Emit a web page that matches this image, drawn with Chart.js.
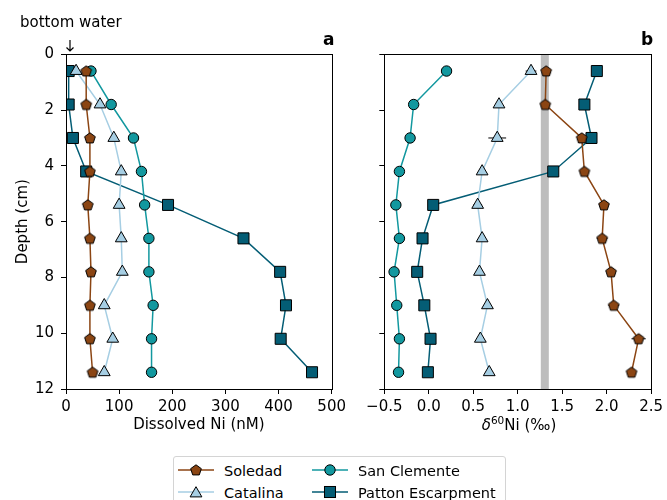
<!DOCTYPE html>
<html>
<head>
<meta charset="utf-8">
<script src="https://cdn.jsdelivr.net/npm/chart.js@4.4.1/dist/chart.umd.min.js"></script>
<style>
  body { margin: 0; width: 667px; height: 500px; position: relative; overflow: hidden; background: #fff;
         font-family: "DejaVu Sans", sans-serif; color: #000; }
  canvas { position: absolute; top: 0; }
  #chartA { left: 0; }
  #chartB { left: 350px; }
  .txt { position: absolute; font-size: 15px; white-space: nowrap; line-height: 1; }
  .letter { position: absolute; font-size: 17px; font-weight: bold; line-height: 1; }
  #xtitleB { left: 519px; top: 418px; transform: translateX(-50%); }
  #xtitleB i { font-style: italic; }
  #xtitleB sup { font-size: 10.5px; vertical-align: 0; position: relative; top: -6px; }
  #legend { position: absolute; left: 173px; top: 456px; width: 333px; height: 60px;
            border: 1px solid #d4d4d4; border-radius: 3px; box-sizing: border-box; }
  .leg { position: absolute; font-size: 14.5px; line-height: 1; white-space: nowrap; }
  .leg svg { position: absolute; }
</style>
</head>
<body>
<canvas id="chartA" width="350" height="445"></canvas>
<canvas id="chartB" width="317" height="445"></canvas>

<div class="txt" style="left:20px; top:15px;">bottom water</div>
<svg style="position:absolute; left:60px; top:36px;" width="20" height="20">
  <path d="M10 4 L10 15 M6.5 11.5 L10 15 L13.5 11.5" stroke="#000" stroke-width="1.2" fill="none"/>
</svg>
<div class="letter" style="left:323px; top:31px;">a</div>
<div class="letter" style="left:641px; top:31px;">b</div>
<div class="txt" id="xtitleB"><i>δ</i><sup>60</sup>Ni (‰)</div>
<div id="legend"></div>

<script>
// sample depths (cm)
const depth = [0.6, 1.8, 3.0, 4.2, 5.4, 6.6, 7.8, 9.0, 10.2, 11.4];
const seriesNames = ['Soledad', 'Catalina', 'San Clemente', 'Patton Escarpment'];

// dissolved Ni (nM)
const niSoledad     = [38, 38, 45, 45, 41, 45, 47, 45, 45, 50];
const niCatalina    = [19, 64, 90, 104, 100, 104, 106, 72, 88, 72];
const niSanClemente = [47, 85, 127, 142, 148, 156, 156, 164, 161, 161];
const niPatton      = [5, 5, 13, 38, 192, 334, 403, 414, 404, 463];

// d60Ni (permil)
const d60Soledad     = [1.32, 1.31, 1.72, 1.75, 1.97, 1.95, 2.05, 2.08, 2.36, 2.28];
const d60Catalina    = [1.15, 0.79, 0.77, 0.60, 0.55, 0.60, 0.57, 0.66, 0.58, 0.68];
const d60SanClemente = [0.20, -0.17, -0.21, -0.33, -0.37, -0.33, -0.39, -0.36, -0.33, -0.34];
const d60Patton      = [1.89, 1.75, 1.83, 1.40, 0.05, -0.07, -0.13, -0.05, 0.02, -0.01];

// 2SD on d60Ni
const errSoledad     = [0.03, 0.03, 0.05, 0.05, 0.04, 0.06, 0.04, 0.06, 0.08, 0.04];
const errCatalina    = [0.06, 0.03, 0.10, 0.03, 0.05, 0.04, 0.04, 0.04, 0.04, 0.04];
const errSanClemente = [0.03, 0.03, 0.05, 0.03, 0.03, 0.06, 0.03, 0.03, 0.03, 0.03];
const errPatton      = [0.03, 0.03, 0.03, 0.03, 0.03, 0.03, 0.03, 0.03, 0.03, 0.03];

// seawater d60Ni range (grey band)
const seawaterBand = [1.26, 1.35];

const xTicksA = [0, 100, 200, 300, 400, 500];
const xTicksB = [-0.5, 0.0, 0.5, 1.0, 1.5, 2.0, 2.5];
const yTicks  = [0, 2, 4, 6, 8, 10, 12];

const styles = [
  { color: '#8b4513', line: '#8b4513', marker: 'pentagon', radius: 6 },
  { color: '#a6cee3', line: '#a6cee3', marker: 'triangle', radius: 6.8 },
  { color: '#12989f', line: '#12989f', marker: 'circle', radius: 5.2 },
  { color: '#045d75', line: '#045d75', marker: 'rect', radius: 7.8 }
];

Chart.defaults.font.family = '"DejaVu Sans", sans-serif';
Chart.defaults.font.size = 15;
Chart.defaults.color = '#000';

function pentagon(fill) {
  const c = document.createElement('canvas');
  c.width = 14; c.height = 14;
  const g = c.getContext('2d');
  g.beginPath();
  for (let i = 0; i < 5; i++) {
    const a = -Math.PI / 2 + i * 2 * Math.PI / 5;
    const px = 7 + 5.6 * Math.cos(a), py = 7.4 + 5.6 * Math.sin(a);
    if (i) g.lineTo(px, py); else g.moveTo(px, py);
  }
  g.closePath();
  g.fillStyle = fill; g.fill();
  g.lineWidth = 1; g.strokeStyle = '#000'; g.stroke();
  return c;
}
const pentImg = pentagon(styles[0].color);

function dataset(i, xs, errs) {
  const s = styles[i];
  return {
    label: seriesNames[i],
    data: xs.map((x, k) => ({ x: x, y: depth[k] })),
    errs: errs,
    showLine: true,
    borderColor: s.line,
    borderWidth: 1.5,
    pointStyle: s.marker === 'pentagon' ? pentImg : s.marker,
    pointRadius: s.radius,
    pointBackgroundColor: s.color,
    pointBorderColor: '#000',
    pointBorderWidth: 1
  };
}

const frame = {
  id: 'frame',
  afterDraw(chart) {
    const a = chart.chartArea, ctx = chart.ctx;
    ctx.save();
    ctx.strokeStyle = '#000';
    ctx.lineWidth = 1;
    ctx.strokeRect(Math.round(a.left) + 0.5, Math.round(a.top) + 0.5,
                   Math.round(a.right) - Math.round(a.left), Math.round(a.bottom) - Math.round(a.top));
    ctx.restore();
  }
};

const band = {
  id: 'band',
  beforeDatasetsDraw(chart) {
    const a = chart.chartArea, ctx = chart.ctx, x = chart.scales.x;
    const x0 = x.getPixelForValue(seawaterBand[0]), x1 = x.getPixelForValue(seawaterBand[1]);
    ctx.save();
    ctx.fillStyle = '#bdbdbd';
    ctx.fillRect(x0, a.top, x1 - x0, a.bottom - a.top);
    ctx.restore();
  }
};

const errorBars = {
  id: 'errorBars',
  beforeDatasetsDraw(chart) {
    const ctx = chart.ctx, xs = chart.scales.x, ys = chart.scales.y;
    ctx.save();
    ctx.strokeStyle = '#000';
    ctx.lineWidth = 1;
    chart.data.datasets.forEach(ds => {
      if (!ds.errs) return;
      ds.data.forEach((p, k) => {
        const y = ys.getPixelForValue(p.y);
        ctx.beginPath();
        ctx.moveTo(xs.getPixelForValue(p.x - ds.errs[k]), y);
        ctx.lineTo(xs.getPixelForValue(p.x + ds.errs[k]), y);
        ctx.stroke();
      });
    });
    ctx.restore();
  }
};

function makeChart(id, datasets, xmin, xmax, xticks, fmt, xtitle, yWidth, pad, showY, plugins) {
  return new Chart(document.getElementById(id), {
    type: 'scatter',
    data: { datasets: datasets },
    options: {
      responsive: false,
      animation: false,
      events: [],
      layout: { padding: pad },
      plugins: { legend: { display: false }, tooltip: { enabled: false } },
      scales: {
        x: {
          type: 'linear', min: xmin, max: xmax,
          afterBuildTicks: s => { s.ticks = xticks.map(v => ({ value: v })); },
          afterFit: s => { s.height = 49.4; },
          ticks: { padding: 4, maxRotation: 0, autoSkip: false, callback: fmt },
          grid: { drawOnChartArea: false, tickLength: 5, tickColor: '#000' },
          border: { color: '#000' },
          title: { display: !!xtitle, text: xtitle, padding: { top: 4, bottom: 4 } }
        },
        y: {
          type: 'linear', reverse: true, min: 0, max: 12,
          afterBuildTicks: s => { s.ticks = yTicks.map(v => ({ value: v })); },
          afterFit: s => { s.width = yWidth; },
          ticks: { display: showY, padding: 7 },
          grid: { drawOnChartArea: false, tickLength: 5, tickColor: '#000' },
          border: { color: '#000' },
          title: { display: showY, text: 'Depth (cm)', padding: { top: 4, bottom: 4 } }
        }
      }
    },
    plugins: plugins
  });
}

makeChart('chartA', [
    dataset(0, niSoledad), dataset(1, niCatalina),
    dataset(2, niSanClemente), dataset(3, niPatton)
  ], 0, 500, xTicksA, v => String(v), 'Dissolved Ni (nM)', 56,
  { left: 10, right: 15, top: 54.3, bottom: 6.6 }, true, [frame]);

// panel b axis title is the html element #xtitleB (italic delta + superscript)
makeChart('chartB', [
    dataset(0, d60Soledad, errSoledad), dataset(1, d60Catalina, errCatalina),
    dataset(2, d60SanClemente, errSanClemente), dataset(3, d60Patton, errPatton)
  ], -0.5, 2.5, xTicksB, v => v.toFixed(1).replace('-', '\u2212'), '', 34.3,
  { left: 0, right: 13.7, top: 54.3, bottom: 6.6 }, false, [band, errorBars, frame]);

// legend (matplotlib style, two columns)
function markerSvg(i) {
  const s = styles[i], c = 18, cy = 7;
  const st = 'fill="' + s.color + '" stroke="#000" stroke-width="1"';
  if (s.marker === 'pentagon') {
    const pts = [];
    for (let k = 0; k < 5; k++) {
      const a = -Math.PI / 2 + k * 2 * Math.PI / 5;
      pts.push((c + 5.6 * Math.cos(a)).toFixed(2) + ',' + (cy + 0.4 + 5.6 * Math.sin(a)).toFixed(2));
    }
    return '<polygon points="' + pts.join(' ') + '" ' + st + '/>';
  }
  if (s.marker === 'triangle') {
    const r = s.radius, pts = [];
    for (let k = 0; k < 3; k++) {
      const a = k * 2 * Math.PI / 3;
      pts.push((c + Math.sin(a) * r).toFixed(2) + ',' + (cy + 1.5 - Math.cos(a) * r).toFixed(2));
    }
    return '<polygon points="' + pts.join(' ') + '" ' + st + '/>';
  }
  if (s.marker === 'circle') return '<circle cx="' + c + '" cy="' + cy + '" r="' + s.radius + '" ' + st + '/>';
  const h = s.radius * Math.SQRT1_2;
  return '<rect x="' + (c - h) + '" y="' + (cy - h) + '" width="' + 2 * h + '" height="' + 2 * h + '" ' + st + '/>';
}

const legendCells = [[0, 0], [0, 1], [1, 0], [1, 1]]; // [col,row] per series
const legend = document.getElementById('legend');
seriesNames.forEach((name, i) => {
  const col = legendCells[i][0], row = legendCells[i][1];
  const el = document.createElement('div');
  el.className = 'leg';
  el.style.left = (4 + col * 134) + 'px';
  el.style.top = (7 + row * 22) + 'px';
  el.innerHTML =
    '<svg width="36" height="16" style="left:0;top:-1px">' +
    '<line x1="0" y1="7" x2="36" y2="7" stroke="' + styles[i].line + '" stroke-width="1.5"/>' +
    markerSvg(i) + '</svg>' +
    '<span style="position:absolute;left:46px;top:0">' + name + '</span>';
  legend.appendChild(el);
});
</script>
</body>
</html>
